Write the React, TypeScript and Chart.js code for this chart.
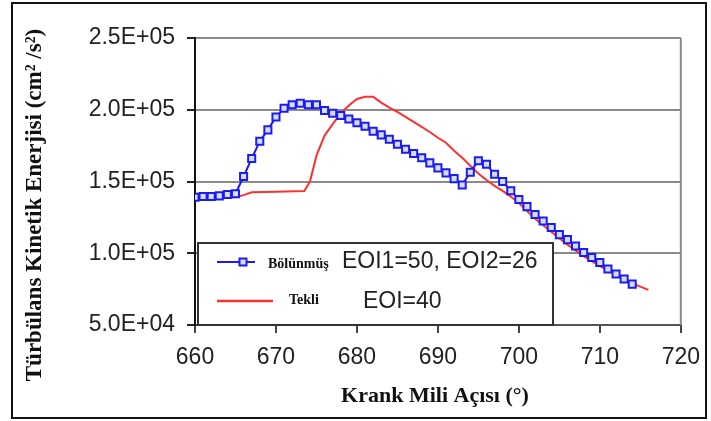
import React, { useEffect, useRef } from "react";
import { Chart, registerables } from "chart.js";

Chart.register(...registerables);

const blueAngles = [660, 661, 662, 663, 664, 665, 666, 667, 668, 669, 670, 671, 672, 673, 674, 675, 676, 677, 678, 679, 680, 681, 682, 683, 684, 685, 686, 687, 688, 689, 690, 691, 692, 693, 694, 695, 696, 697, 698, 699, 700, 701, 702, 703, 704, 705, 706, 707, 708, 709, 710, 711, 712, 713, 714];
const blueValues = [139000, 139500, 139500, 140000, 141000, 141500, 153500, 166000, 178000, 186000, 195000, 201000, 203500, 204500, 203500, 203500, 199500, 197500, 196000, 193500, 191000, 188500, 185000, 182500, 179500, 176000, 172500, 169500, 166500, 163000, 159500, 156000, 152000, 147500, 156500, 164500, 162000, 155000, 150000, 143500, 137500, 132500, 127000, 122500, 118000, 113000, 109500, 105000, 100500, 97000, 93500, 89000, 85500, 82000, 78500];

const redAngles = [660, 665, 666, 667, 670, 673.5, 674.2, 675, 676, 677, 678, 679, 680, 681, 682, 683, 684, 685, 686, 687, 688, 689, 690, 691, 692, 693, 694, 695, 696, 697, 698, 699, 700, 702, 704, 706, 708, 710, 712, 714, 716];
const redValues = [138500, 139000, 140500, 142500, 142800, 143300, 150000, 168000, 182000, 190000, 197500, 203000, 207500, 209000, 209000, 205000, 201500, 198500, 195000, 191500, 188000, 184500, 180500, 177000, 171500, 166500, 161000, 155500, 151000, 147000, 143500, 139500, 135000, 124000, 115000, 106000, 98000, 91000, 85000, 79000, 74500];

const xTitle = "Krank Mili Açısı (°)";
const yTitle = "Türbülans Kinetik Enerjisi (cm² /s²)";
const legendNames = ["Bölünmüş", "Tekli"];
const legendNotes = ["EOI1=50, EOI2=26", "EOI=40"];

function sci(v: number): string {
  const [m, e] = v.toExponential(1).split("e");
  const n = parseInt(e, 10);
  return m + "E" + (n < 0 ? "-" : "+") + String(Math.abs(n)).padStart(2, "0");
}

const BLUE = "#1c1cf0";
const RED = "#ff3030";

const decor = {
  id: "decor",
  afterDraw(chart: any) {
    const ctx = chart.ctx;
    const a = chart.chartArea;
    ctx.save();
    // right border of plot
    ctx.strokeStyle = "#8a8a8a";
    ctx.lineWidth = 2;
    ctx.beginPath();
    ctx.moveTo(a.right, a.top);
    ctx.lineTo(a.right, a.bottom);
    ctx.stroke();

    // legend box
    const lx = 198, ly = 243, lw = 355, lh = a.bottom - 243;
    ctx.fillStyle = "#fff";
    ctx.fillRect(lx, ly, lw, lh);
    ctx.strokeStyle = "#333";
    ctx.lineWidth = 2;
    ctx.strokeRect(lx, ly, lw, lh);

    // blue sample
    ctx.strokeStyle = BLUE;
    ctx.lineWidth = 2;
    ctx.beginPath();
    ctx.moveTo(217, 262);
    ctx.lineTo(255, 262);
    ctx.stroke();
    ctx.fillStyle = "#d6dcff";
    ctx.fillRect(239.5, 258.5, 7, 7);
    ctx.strokeRect(239.5, 258.5, 7, 7);
    // red sample
    ctx.strokeStyle = RED;
    ctx.lineWidth = 2.5;
    ctx.beginPath();
    ctx.moveTo(217, 301);
    ctx.lineTo(273, 301);
    ctx.stroke();

    ctx.fillStyle = "#111";
    ctx.textBaseline = "middle";
    ctx.textAlign = "left";
    ctx.font = "bold 14px 'Liberation Serif'";
    ctx.fillText(legendNames[0], 268, 264);
    ctx.fillText(legendNames[1], 289, 300);
    ctx.fillStyle = "#222";
    ctx.font = "23px 'Liberation Sans'";
    ctx.fillText(legendNotes[0], 342, 262);
    ctx.fillText(legendNotes[1], 363, 302);

    // axis titles
    ctx.fillStyle = "#111";
    ctx.font = "bold 22px 'Liberation Serif'";
    ctx.textAlign = "center";
    ctx.fillText(xTitle, 435, 396);
    ctx.font = "bold 23px 'Liberation Serif'";
    ctx.translate(35, 205);
    ctx.rotate(-Math.PI / 2);
    ctx.fillText(yTitle, 0, 0);
    ctx.setTransform(1, 0, 0, 1, 0, 0);

    // outer frame
    ctx.strokeStyle = "#111";
    ctx.lineWidth = 2;
    ctx.strokeRect(12, 3, 694, 415);
    ctx.restore();
  },
};

export default function App() {
  const ref = useRef<HTMLCanvasElement>(null);
  useEffect(() => {
    if (!ref.current) return;
    const chart = new Chart(ref.current, {
      type: "line",
      data: {
        datasets: [
          {
            label: legendNames[0],
            data: blueAngles.map((x, i) => ({ x, y: blueValues[i] })),
            borderColor: BLUE,
            borderWidth: 2,
            pointStyle: "rect",
            pointRadius: 5,
            pointBorderWidth: 2,
            pointBorderColor: BLUE,
            pointBackgroundColor: "#d6dcff",
            tension: 0,
          },
          {
            label: legendNames[1],
            data: redAngles.map((x, i) => ({ x, y: redValues[i] })),
            borderColor: RED,
            borderWidth: 2,
            pointRadius: 0,
            tension: 0,
          },
        ],
      },
      options: {
        responsive: false,
        maintainAspectRatio: false,
        animation: false,
        layout: { padding: { left: 0, top: 38, right: 21, bottom: 0 } },
        plugins: { legend: { display: false }, tooltip: { enabled: false } },
        scales: {
          x: {
            type: "linear",
            min: 660,
            max: 720,
            afterFit: (s: any) => { s.height = 96; },
            ticks: {
              stepSize: 10,
              color: "#222",
              padding: 11,
              font: { family: "'Liberation Sans'", size: 23 },
              maxRotation: 0,
            },
            grid: { drawOnChartArea: false, drawTicks: true, tickLength: 8, tickColor: "#444", lineWidth: 2 },
            border: { color: "#555", width: 2 },
          },
          y: {
            min: 50000,
            max: 250000,
            afterFit: (s: any) => { s.width = 195; },
            ticks: {
              stepSize: 50000,
              color: "#222",
              padding: 12,
              font: { family: "'Liberation Sans'", size: 23 },
              callback: (v: any) => sci(Number(v)),
            },
            grid: { color: "#8a8a8a", lineWidth: 2, tickLength: 8, tickColor: "#222" },
            border: { color: "#111", width: 2 },
          },
        },
      },
      plugins: [decor],
    });
    return () => chart.destroy();
  }, []);
  return (
    <div style={{ position: "absolute", left: 0, top: 0, width: 711, height: 421, background: "#fff" }}>
      <canvas ref={ref} width={711} height={421} style={{ display: "block" }} />
    </div>
  );
}
